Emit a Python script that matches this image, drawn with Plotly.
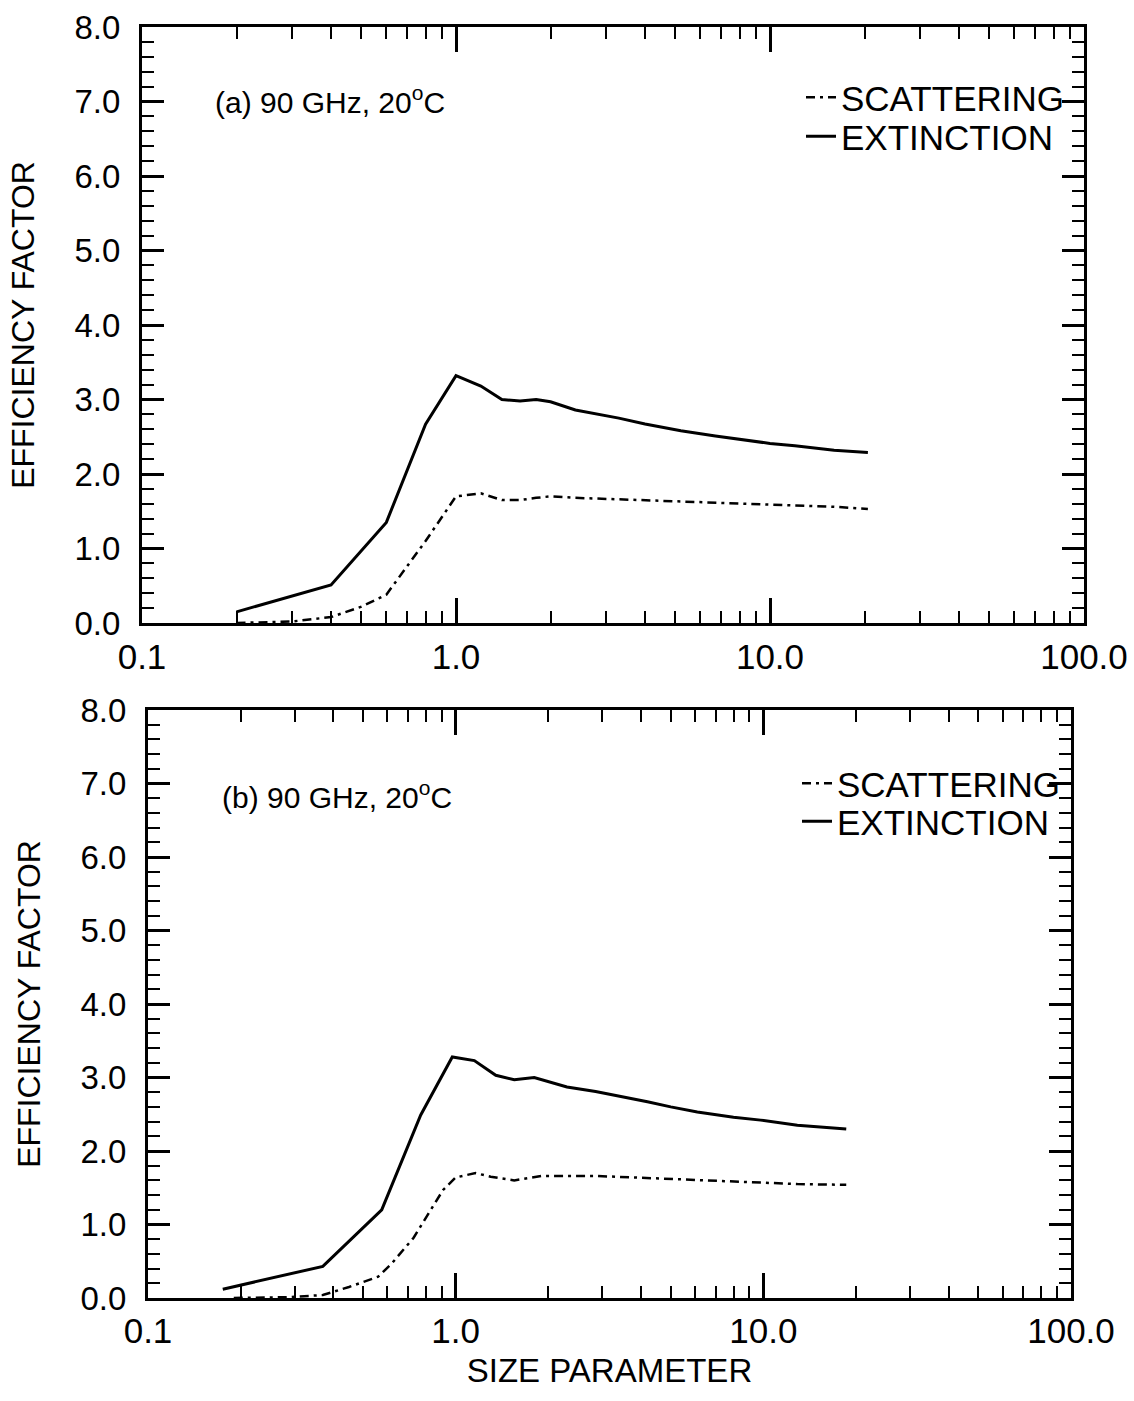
import plotly.graph_objects as go

# Panel (a): efficiency factors vs size parameter
ext_a_x = [0.2, 0.4, 0.6, 0.8, 1.0, 1.2, 1.4, 1.6, 1.8, 2.0, 2.4, 2.8, 3.3, 4.0, 5.2, 6.7, 8.3, 10.0, 12.0, 16.0, 20.5]
ext_a_y = [0.15, 0.51, 1.35, 2.67, 3.32, 3.18, 3.00, 2.98, 3.00, 2.97, 2.86, 2.81, 2.75, 2.67, 2.58, 2.51, 2.46, 2.41, 2.38, 2.32, 2.29]
sca_a_x = [0.2, 0.3, 0.4, 0.5, 0.6, 0.8, 1.0, 1.2, 1.4, 1.6, 1.8, 2.0, 2.4, 2.8, 3.3, 4.0, 5.0, 6.5, 8.0, 10.0, 12.0, 16.0, 20.5]
sca_a_y = [0.00, 0.02, 0.08, 0.22, 0.38, 1.10, 1.70, 1.74, 1.65, 1.65, 1.68, 1.70, 1.68, 1.67, 1.66, 1.65, 1.64, 1.62, 1.61, 1.59, 1.58, 1.56, 1.53]

# Panel (b)
ext_b_x = [0.175, 0.37, 0.575, 0.77, 0.975, 1.15, 1.35, 1.55, 1.8, 2.3, 2.85, 3.5, 4.2, 5.0, 6.1, 8.0, 9.8, 12.9, 18.6]
ext_b_y = [0.12, 0.43, 1.20, 2.49, 3.28, 3.23, 3.03, 2.97, 3.00, 2.87, 2.81, 2.74, 2.67, 2.60, 2.53, 2.46, 2.42, 2.35, 2.30]
sca_b_x = [0.19, 0.28, 0.37, 0.45, 0.56, 0.62, 0.73, 0.8, 0.91, 1.0, 1.16, 1.3, 1.55, 1.9, 2.3, 2.85, 3.8, 5.6, 8.5, 12.9, 18.6]
sca_b_y = [0.00, 0.01, 0.04, 0.15, 0.29, 0.47, 0.82, 1.09, 1.47, 1.64, 1.70, 1.65, 1.60, 1.66, 1.66, 1.66, 1.64, 1.61, 1.58, 1.55, 1.54]

panel_labels = ["(a) 90 GHz, 20<sup>o</sup>C", "(b) 90 GHz, 20<sup>o</sup>C"]
series_names = ["SCATTERING", "EXTINCTION"]

x_tick_vals = [0.1, 1.0, 10.0, 100.0]
x_tick_text = ["0.1", "1.0", "10.0", "100.0"]
y_tick_vals = [0, 1, 2, 3, 4, 5, 6, 7, 8]
y_tick_text = ["0.0", "1.0", "2.0", "3.0", "4.0", "5.0", "6.0", "7.0", "8.0"]

FONT = "Liberation Sans, Arial, Helvetica, sans-serif"
W, H = 1134, 1401
DASH = "9px,5px,3px,5px"

x_minor = [m * d for d in (0.1, 1.0, 10.0) for m in range(2, 10)]

fig = go.Figure()

# one single-entry legend per trace so each key row can be placed on its own
fig.add_trace(go.Scatter(x=sca_a_x, y=sca_a_y, mode="lines", name=series_names[0],
                         line=dict(color="black", width=2.5, dash=DASH),
                         xaxis="x", yaxis="y", legend="legend"))
fig.add_trace(go.Scatter(x=ext_a_x, y=ext_a_y, mode="lines", name=series_names[1],
                         line=dict(color="black", width=3),
                         xaxis="x", yaxis="y", legend="legend2"))
fig.add_trace(go.Scatter(x=sca_b_x, y=sca_b_y, mode="lines", name=series_names[0],
                         line=dict(color="black", width=2.5, dash=DASH),
                         xaxis="x2", yaxis="y2", legend="legend3"))
fig.add_trace(go.Scatter(x=ext_b_x, y=ext_b_y, mode="lines", name=series_names[1],
                         line=dict(color="black", width=3),
                         xaxis="x2", yaxis="y2", legend="legend4"))


def px_x(p):
    return p / W


def px_y(p):
    return 1 - p / H


def xaxis_style(domain, anchor, standoff, title=None):
    d = dict(
        type="log", range=[-1, 2], domain=domain, anchor=anchor, automargin=False,
        showline=True, linewidth=3, linecolor="black", mirror="allticks",
        ticks="inside", ticklen=25, tickwidth=2.5, tickcolor="black",
        tickvals=x_tick_vals, ticktext=x_tick_text,
        tickfont=dict(family=FONT, size=35, color="black"),
        ticklabelstandoff=standoff,
        minor=dict(ticks="inside", ticklen=12, tickwidth=2, tickcolor="black",
                   tickvals=x_minor, showgrid=False),
        showgrid=False, zeroline=False,
    )
    if title:
        d["title"] = dict(text=title, font=dict(family=FONT, size=33, color="black"), standoff=10)
    return d


def yaxis_style(domain, anchor):
    return dict(
        range=[0, 8], domain=domain, anchor=anchor, automargin=False,
        showline=True, linewidth=3, linecolor="black", mirror="allticks",
        ticks="inside", ticklen=22, tickwidth=2.5, tickcolor="black",
        tickvals=y_tick_vals, ticktext=y_tick_text,
        tickfont=dict(family=FONT, size=33, color="black"),
        ticklabelstandoff=12,
        minor=dict(ticks="inside", ticklen=12, tickwidth=2, tickcolor="black",
                   dtick=0.2, showgrid=False),
        showgrid=False, zeroline=False,
        title=dict(text="EFFICIENCY FACTOR", font=dict(family=FONT, size=32, color="black"), standoff=31),
    )


legend_common = dict(
    font=dict(family=FONT, size=35, color="black"),
    bgcolor="rgba(0,0,0,0)", borderwidth=0,
    xanchor="left", yanchor="top", tracegroupgap=0,
    itemwidth=30,
)

fig.update_layout(
    width=W, height=H,
    margin=dict(l=0, r=0, t=0, b=0, autoexpand=False),
    paper_bgcolor="white", plot_bgcolor="white",
    font=dict(family=FONT, color="black"),
    xaxis=xaxis_style([px_x(142), px_x(1084)], "y", 1),
    yaxis=yaxis_style([px_y(623), px_y(27)], "x"),
    xaxis2=xaxis_style([px_x(148), px_x(1071)], "y2", 0, title="SIZE PARAMETER"),
    yaxis2=yaxis_style([px_y(1298), px_y(710)], "x2"),
    legend=dict(x=px_x(801), y=px_y(68), **legend_common),
    legend2=dict(x=px_x(801), y=px_y(107), **legend_common),
    legend3=dict(x=px_x(797), y=px_y(754), **legend_common),
    legend4=dict(x=px_x(797), y=px_y(792), **legend_common),
    showlegend=True,
    annotations=[
        dict(text=panel_labels[0], xref="paper", yref="paper", x=px_x(213), y=px_y(100),
             xanchor="left", yanchor="middle", showarrow=False,
             font=dict(family=FONT, size=30, color="black")),
        dict(text=panel_labels[1], xref="paper", yref="paper", x=px_x(220), y=px_y(795),
             xanchor="left", yanchor="middle", showarrow=False,
             font=dict(family=FONT, size=30, color="black")),
    ],
)

fig.write_html("out.html")
